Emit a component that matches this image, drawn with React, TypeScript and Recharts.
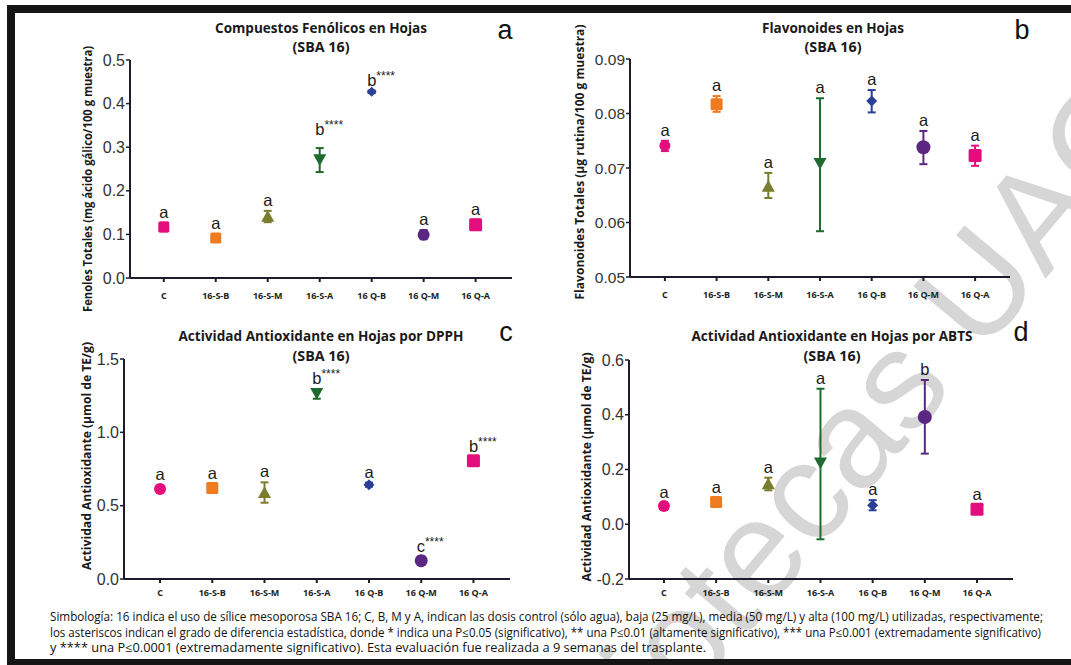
import React from 'react';
import { ScatterChart, Scatter, XAxis, YAxis, ErrorBar } from 'recharts';

// ---------- data ----------
const categories = ['C', '16-S-B', '16-S-M', '16-S-A', '16 Q-B', '16 Q-M', '16 Q-A'];
const catIndex = [0, 1, 2, 3, 4, 5, 6];

// a) Fenoles totales
const fenolesMean = [0.117, 0.092, 0.141, 0.272, 0.427, 0.099, 0.122];
const fenolesLow = [0.010, 0.008, 0.013, 0.029, 0.003, 0.010, 0.012];
const fenolesHigh = [0.010, 0.008, 0.013, 0.026, 0.003, 0.011, 0.012];
const fenolesLetters = ['a', 'a', 'a', 'b****', 'b****', 'a', 'a'];
const fenolesTicks = [0, 0.1, 0.2, 0.3, 0.4, 0.5];

// b) Flavonoides totales
const flavMean = [0.0741, 0.0817, 0.0666, 0.0709, 0.0823, 0.0738, 0.0723];
const flavLow = [0.0010, 0.0014, 0.0021, 0.0125, 0.0021, 0.0031, 0.0019];
const flavHigh = [0.0009, 0.0015, 0.0025, 0.0119, 0.0020, 0.0030, 0.0018];
const flavLetters = ['a', 'a', 'a', 'a', 'a', 'a', 'a'];
const flavTicks = [0.05, 0.06, 0.07, 0.08, 0.09];

// c) DPPH
const dpphMean = [0.613, 0.620, 0.588, 1.266, 0.643, 0.125, 0.807];
const dpphLow = [0.025, 0.030, 0.068, 0.037, 0.014, 0.027, 0.027];
const dpphHigh = [0.025, 0.030, 0.071, 0.027, 0.014, 0.027, 0.027];
const dpphLetters = ['a', 'a', 'a', 'b****', 'a', 'c****', 'b****'];
const dpphTicks = [0, 0.5, 1.0, 1.5];

// d) ABTS
const abtsMean = [0.067, 0.081, 0.147, 0.225, 0.069, 0.392, 0.055];
const abtsLow = [0.012, 0.016, 0.023, 0.280, 0.018, 0.134, 0.015];
const abtsHigh = [0.012, 0.016, 0.023, 0.270, 0.019, 0.135, 0.015];
const abtsLetters = ['a', 'a', 'a', 'a', 'a', 'b', 'a'];
const abtsTicks = [-0.2, 0, 0.2, 0.4, 0.6];

// ---------- styles ----------
const colors = ['#e30d7e', '#ef7b20', '#7a7c2e', '#1f6a2f', '#2c3f98', '#5b2783', '#e30d7e'];
const shapesA = ['square', 'square', 'triangle', 'triangleDown', 'diamond', 'circle', 'square'];
const shapesOther = ['circle', 'square', 'triangle', 'triangleDown', 'diamond', 'circle', 'square'];
const sizesA = [5.5, 5.5, 6.5, 6.5, 5, 6, 6.5];
const sizesB = [5.5, 6, 6.5, 6.5, 5.5, 7, 6.5];
const sizesC = [6, 6, 6.5, 6.5, 5.5, 6.5, 6.5];
const sizesD = [6, 6, 6.5, 6.5, 5.5, 7, 6.5];
const liftsA = [0, 0, 0, 8, 0, 0, 0];
const liftsZero = [0, 0, 0, 0, 0, 0, 0];
const AXIS = '#1c1c2c';

const layoutA = { x0: 130, x1: 512, y0: 60, y1: 278, xDomain: [-0.65, 6.7], xTickDy: 15 };
const layoutB = { x0: 630, x1: 1010, y0: 59, y1: 277, xDomain: [-0.675, 6.675], xTickDy: 15 };
const layoutC = { x0: 124, x1: 510, y0: 359, y1: 579, xDomain: [-0.69, 6.7], xTickDy: 11 };
const layoutD = { x0: 629, x1: 1013, y0: 360, y1: 579, xDomain: [-0.67, 6.69], xTickDy: 11 };

function Marker(props: any) {
  const { cx, cy, kind, size, color } = props;
  if (cx == null || cy == null) return null;
  const s = size;
  if (kind === 'circle') return <circle cx={cx} cy={cy} r={s} fill={color} />;
  if (kind === 'square')
    return <rect x={cx - s} y={cy - s} width={2 * s} height={2 * s} rx={1.5} fill={color} />;
  if (kind === 'triangle')
    return (
      <polygon
        points={`${cx},${cy - s} ${cx + s},${cy + s * 0.8} ${cx - s},${cy + s * 0.8}`}
        fill={color}
      />
    );
  if (kind === 'triangleDown')
    return (
      <polygon
        points={`${cx},${cy + s} ${cx + s},${cy - s * 0.8} ${cx - s},${cy - s * 0.8}`}
        fill={color}
      />
    );
  return (
    <polygon
      points={`${cx},${cy - s} ${cx + s},${cy} ${cx},${cy + s} ${cx - s},${cy}`}
      fill={color}
    />
  );
}

function LetterMark(props: any) {
  const { cx, cy, payload } = props;
  if (cx == null || cy == null) return null;
  const txt: string = payload.letter;
  const letter = txt.charAt(0);
  const stars = txt.slice(1);
  return (
    <text
      x={cx - 4.5}
      y={cy - 5 - payload.lift}
      fontFamily="'Liberation Sans', Arial, sans-serif"
      fill="#1a1a1a"
    >
      <tspan fontSize={16.5}>{letter}</tspan>
      {stars ? (
        <tspan fontSize={12} dy={-6}>
          {stars}
        </tspan>
      ) : null}
    </text>
  );
}

function Panel(props: any) {
  const { layout, means, lows, highs, letters, ticks, yDomain, digits, shapes, sizes, lifts, yFont } = props;
  const w = layout.x1 - layout.x0 + 70;
  const h = layout.y1 - layout.y0 + 40;
  const labelData = means.map((m: number, i: number) => ({
    x: i,
    y: m + highs[i],
    letter: letters[i],
    lift: lifts[i],
  }));
  return (
    <div style={{ position: 'absolute', left: layout.x0 - 60, top: layout.y0 - 10 }}>
      <ScatterChart width={w} height={h} margin={{ top: 10, right: 10, left: 0, bottom: 0 }}>
        <XAxis
          type="number"
          dataKey="x"
          domain={layout.xDomain}
          ticks={catIndex}
          interval={0}
          allowDataOverflow
          height={30}
          axisLine={{ stroke: AXIS, strokeWidth: 2 }}
          tickLine={{ stroke: AXIS, strokeWidth: 2 }}
          tickSize={4}
          tickMargin={2}
          tick={(p: any) => (
            <text
              x={p.x}
              y={p.y + layout.xTickDy}
              textAnchor="middle"
              fontFamily="'Open Sans', sans-serif"
              fontWeight={700}
              fontSize={9}
              fill="#222"
            >
              {categories[p.payload.value]}
            </text>
          )}
        />
        <YAxis
          type="number"
          dataKey="y"
          domain={yDomain}
          ticks={ticks}
          interval={0}
          allowDataOverflow
          width={60}
          axisLine={{ stroke: AXIS, strokeWidth: 2 }}
          tickLine={{ stroke: AXIS, strokeWidth: 1.5 }}
          tickSize={4}
          tickMargin={1}
          tickFormatter={(v: number) => v.toFixed(digits)}
          tick={{ fontSize: yFont, fill: '#333', fontFamily: "'Liberation Sans', Arial, sans-serif" }}
        />
        {means.map((m: number, i: number) => (
          <Scatter
            key={i}
            data={[{ x: i, y: m, err: [lows[i], highs[i]] }]}
            fill={colors[i]}
            isAnimationActive={false}
            shape={(p: any) => <Marker {...p} kind={shapes[i]} size={sizes[i]} color={colors[i]} />}
          >
            <ErrorBar
              dataKey="err"
              direction="y"
              width={4}
              stroke={colors[i]}
              strokeWidth={2}
              isAnimationActive={false}
            />
          </Scatter>
        ))}
        <Scatter data={labelData} isAnimationActive={false} shape={LetterMark} />
      </ScatterChart>
    </div>
  );
}

const titleFont = "'Open Sans', 'Noto Sans', sans-serif";

function TitleBlock({ cx, y1, y2, line1, len1 }: any) {
  return (
    <g fontFamily={titleFont} fontWeight={700} fill="#1a1a1a">
      <text x={cx} y={y1} textAnchor="middle" fontSize={15} textLength={len1} lengthAdjust="spacingAndGlyphs">
        {line1}
      </text>
      <text x={cx} y={y2} textAnchor="middle" fontSize={15} textLength={57} lengthAdjust="spacingAndGlyphs">
        (SBA 16)
      </text>
    </g>
  );
}

function YLabel({ x, cy, text, len }: any) {
  return (
    <text
      transform={`translate(${x},${cy}) rotate(-90)`}
      textAnchor="middle"
      fontFamily={titleFont}
      fontWeight={700}
      fontSize={12}
      fill="#1a1a1a"
      textLength={len}
      lengthAdjust="spacingAndGlyphs"
    >
      {text}
    </text>
  );
}

const caption1 =
  'Simbología: 16 indica el uso de  sílice mesoporosa SBA 16; C, B, M y A, indican las dosis control (sólo agua), baja (25 mg/L), media  (50 mg/L) y alta  (100 mg/L) utilizadas, respectivamente;';
const caption2 =
  'los asteriscos indican el grado de diferencia estadística, donde * indica una P≤0.05 (significativo), ** una P≤0.01 (altamente significativo), *** una P≤0.001 (extremadamente significativo)';
const caption3 =
  'y **** una P≤0.0001 (extremadamente significativo). Esta evaluación fue realizada a 9 semanas del trasplante.';

export default function App() {
  const capFont = "'Liberation Sans Narrow', 'Open Sans', sans-serif";
  return (
    <div
      style={{
        position: 'absolute',
        left: 0,
        top: 0,
        width: 1071,
        height: 665,
        background: '#ffffff',
        overflow: 'hidden',
      }}
    >
      <svg width={1071} height={665} style={{ position: 'absolute', left: 0, top: 0 }}>
        <text
          transform="translate(520,905) rotate(-50)"
          fontFamily="'Liberation Sans', Arial, sans-serif"
          fontSize={140}
          fill="#d6d6d6"
        >
          Bibliotecas UAQ
        </text>
      </svg>

      <Panel
        layout={layoutA}
        means={fenolesMean}
        lows={fenolesLow}
        highs={fenolesHigh}
        letters={fenolesLetters}
        ticks={fenolesTicks}
        yDomain={[0, 0.5]}
        digits={1}
        shapes={shapesA}
        sizes={sizesA}
        lifts={liftsA}
        yFont={16}
      />
      <Panel
        layout={layoutB}
        means={flavMean}
        lows={flavLow}
        highs={flavHigh}
        letters={flavLetters}
        ticks={flavTicks}
        yDomain={[0.05, 0.09]}
        digits={2}
        shapes={shapesOther}
        sizes={sizesB}
        lifts={liftsZero}
        yFont={15.5}
      />
      <Panel
        layout={layoutC}
        means={dpphMean}
        lows={dpphLow}
        highs={dpphHigh}
        letters={dpphLetters}
        ticks={dpphTicks}
        yDomain={[0, 1.5]}
        digits={1}
        shapes={shapesOther}
        sizes={sizesC}
        lifts={liftsZero}
        yFont={16}
      />
      <Panel
        layout={layoutD}
        means={abtsMean}
        lows={abtsLow}
        highs={abtsHigh}
        letters={abtsLetters}
        ticks={abtsTicks}
        yDomain={[-0.2, 0.6]}
        digits={1}
        shapes={shapesOther}
        sizes={sizesD}
        lifts={liftsZero}
        yFont={16}
      />

      <svg
        width={1071}
        height={665}
        style={{ position: 'absolute', left: 0, top: 0, pointerEvents: 'none' }}
      >
        {/* frame */}
        <rect x={7} y={5} width={1064} height={8} fill="#151515" />
        <rect x={7} y={5} width={8} height={660} fill="#151515" />
        <rect x={7} y={659} width={1064} height={6} fill="#151515" />

        <TitleBlock cx={321} y1={33} y2={52} line1="Compuestos Fenólicos en Hojas" len1={212} />
        <TitleBlock cx={833} y1={33} y2={52} line1="Flavonoides en Hojas" len1={142} />
        <TitleBlock cx={321} y1={341} y2={361} line1="Actividad Antioxidante en Hojas por DPPH" len1={285} />
        <TitleBlock cx={832} y1={341} y2={361} line1="Actividad Antioxidante en Hojas por ABTS" len1={281} />

        <g fontFamily="'Liberation Sans', Arial, sans-serif" fontSize={27} fill="#111">
          <text x={505} y={39} textAnchor="middle">a</text>
          <text x={1022} y={39} textAnchor="middle">b</text>
          <text x={506} y={341} textAnchor="middle">c</text>
          <text x={1021} y={341} textAnchor="middle">d</text>
        </g>

        <YLabel x={92} cy={179} text="Fenoles Totales (mg ácido gálico/100 g muestra)" len={266} />
        <YLabel x={584} cy={162} text="Flavonoides Totales (µg rutina/100 g muestra)" len={275} />
        <YLabel x={91} cy={456} text="Actividad Antioxidante (µmol de TE/g)" len={228} />
        <YLabel x={591} cy={467} text="Actividad Antioxidante (µmol de TE/g)" len={229} />

        <g fontFamily={capFont} fontSize={12} fill="#111" style={{ whiteSpace: 'pre' }}>
          <text x={50} y={621} textLength={993} lengthAdjust="spacingAndGlyphs">{caption1}</text>
          <text x={50} y={637} textLength={991} lengthAdjust="spacingAndGlyphs">{caption2}</text>
          <text x={50} y={652} textLength={656} lengthAdjust="spacingAndGlyphs">{caption3}</text>
        </g>
      </svg>
    </div>
  );
}
